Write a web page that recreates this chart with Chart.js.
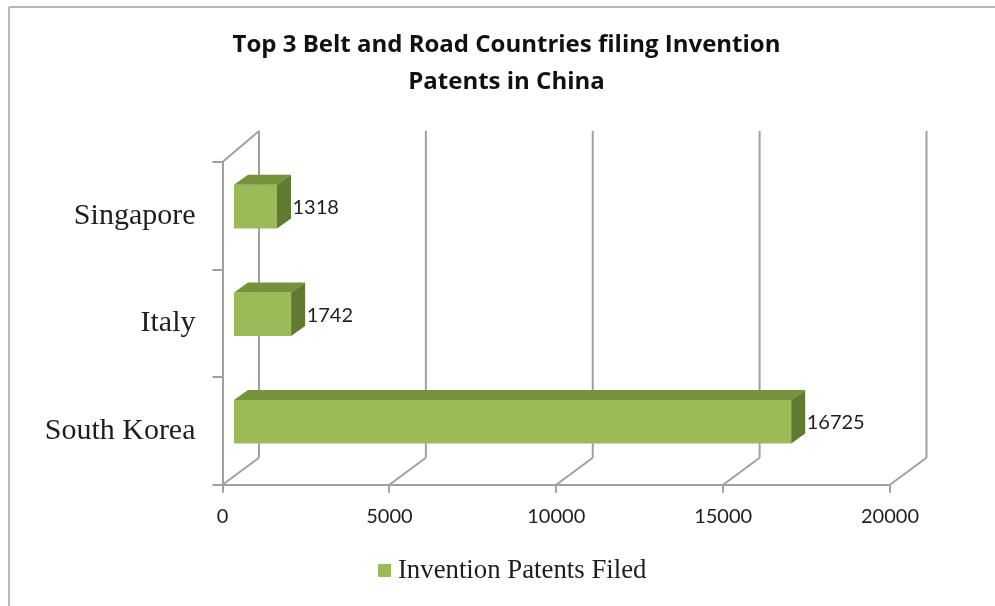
<!DOCTYPE html>
<html>
<head>
<meta charset="utf-8">
<title>Top 3 Belt and Road Countries</title>
<script src="https://cdn.jsdelivr.net/npm/chart.js@4/dist/chart.umd.min.js"></script>
<style>
  html, body { margin: 0; padding: 0; background: #fff; }
  #wrap { width: 995px; height: 606px; overflow: hidden; }
</style>
</head>
<body>
<div id="wrap"><canvas id="chart" width="995" height="606"></canvas></div>
<script>
// ── data ──
const titleLines = ['Top 3 Belt and Road Countries filing Invention', 'Patents in China'];
const seriesName = 'Invention Patents Filed';
const categories = ['Singapore', 'Italy', 'South Korea'];
const patents = [1318, 1742, 16725];

// ── look ──
const GREEN = '#9BBB59', GREEN_TOP = '#76923C', GREEN_SIDE = '#617A31';
const LINE = '#A0A0A0', INK = '#1E1E1E';
const WALL = { x: 36.5, y: -27 };       // depth of the fake 3D box
const BAR = { x: 14, y: -10 };          // depth of each bar
const BAR_SHIFT = { x: 10.5, y: -9.2 }; // bars sit midway into the box

// legend swatch, the built-in box leaves too wide a gap before the text
const swatch = document.createElement('canvas');
swatch.width = swatch.height = 13;
const swatchCtx = swatch.getContext('2d');
swatchCtx.fillStyle = GREEN;
swatchCtx.fillRect(0, 0, 13, 13);

function line(ctx, x1, y1, x2, y2) {
  ctx.beginPath();
  ctx.moveTo(x1, y1);
  ctx.lineTo(x2, y2);
  ctx.stroke();
}

function face(ctx, pts, color) {
  ctx.fillStyle = color;
  ctx.beginPath();
  pts.forEach((p, i) => i ? ctx.lineTo(p[0], p[1]) : ctx.moveTo(p[0], p[1]));
  ctx.closePath();
  ctx.fill();
}

const box3d = {
  id: 'box3d',
  afterLayout(chart) {
    // title and legend are centred a little right of the plot in the original
    chart.titleBlock.left += 61.5;
    chart.titleBlock.right += 61.5;
    chart.legend.left += 70;
    chart.legend.right += 70;
  },
  beforeDraw(chart) {
    const ctx = chart.ctx;
    ctx.save();
    ctx.strokeStyle = LINE;
    ctx.lineWidth = 1.5;
    line(ctx, 9, 606, 9, 7);
    line(ctx, 9, 7, 995, 7);
    ctx.restore();
  },
  beforeDatasetsDraw(chart) {
    const { ctx, chartArea: a, scales: { x } } = chart;
    ctx.save();
    ctx.strokeStyle = LINE;
    ctx.lineWidth = 2;
    x.ticks.forEach(t => {
      const px = x.getPixelForValue(t.value);
      line(ctx, px + WALL.x, a.top + WALL.y - 4, px + WALL.x, a.bottom + WALL.y);
      line(ctx, px, a.bottom, px + WALL.x, a.bottom + WALL.y);
    });
    line(ctx, a.left, a.top, a.left + WALL.x, a.top + WALL.y - 4);
    ctx.restore();
    ctx.save();
    ctx.translate(BAR_SHIFT.x, BAR_SHIFT.y);
  },
  afterDatasetsDraw(chart) {
    const ctx = chart.ctx;
    ctx.restore();
    ctx.save();
    chart.getDatasetMeta(0).data.forEach((bar, i) => {
      const l = bar.base + BAR_SHIFT.x, r = bar.x + BAR_SHIFT.x;
      const t = bar.y - bar.height / 2 + BAR_SHIFT.y, b = bar.y + bar.height / 2 + BAR_SHIFT.y;
      face(ctx, [[l, t], [r, t], [r + BAR.x, t + BAR.y], [l + BAR.x, t + BAR.y]], GREEN_TOP);
      face(ctx, [[r, t], [r + BAR.x, t + BAR.y], [r + BAR.x, b + BAR.y], [r, b]], GREEN_SIDE);
      ctx.fillStyle = INK;
      ctx.font = '20px Lato';
      ctx.textAlign = 'left';
      ctx.textBaseline = 'middle';
      ctx.fillText(String(patents[i]), r + 15.5, (t + b) / 2 + 1);
    });
    ctx.restore();
  }
};

new Chart(document.getElementById('chart'), {
  type: 'bar',
  data: {
    labels: categories,
    datasets: [{
      label: seriesName,
      data: patents,
      backgroundColor: GREEN,
      borderWidth: 0,
      categoryPercentage: 1,
      barPercentage: 0.405
    }]
  },
  options: {
    indexAxis: 'y',
    responsive: false,
    animation: false,
    layout: { padding: { left: 0, right: 105, top: 0, bottom: 12 } },
    plugins: {
      tooltip: { enabled: false },
      title: {
        display: true,
        text: titleLines,
        color: '#111111',
        font: { family: '"Open Sans"', size: 24, weight: 'bold', lineHeight: 1.54 },
        padding: { top: 26.5, bottom: 61.6 }
      },
      legend: {
        position: 'bottom',
        labels: {
          color: INK,
          font: { family: '"Liberation Serif"', size: 26.8 },
          usePointStyle: true,
          pointStyle: swatch,
          pointStyleWidth: 1,
          boxHeight: 13,
          padding: 10
        }
      }
    },
    scales: {
      x: {
        min: 0,
        max: 20000,
        ticks: { stepSize: 5000, color: INK, font: { family: 'Lato', size: 20 }, padding: 12, maxRotation: 0, callback: v => String(v) },
        grid: { drawOnChartArea: false, drawTicks: true, tickLength: 8, color: LINE, lineWidth: 2 },
        border: { color: LINE, width: 2 },
        afterFit(scale) { scale.height = 62.5; }
      },
      y: {
        ticks: { color: INK, font: { family: '"Liberation Serif"', size: 30 }, padding: 17 },
        grid: { drawOnChartArea: false, drawTicks: true, tickLength: 10, color: LINE, lineWidth: 2 },
        border: { color: LINE, width: 2 },
        afterFit(scale) { scale.width = 222.5; }
      }
    }
  },
  plugins: [box3d]
});
</script>
</body>
</html>
